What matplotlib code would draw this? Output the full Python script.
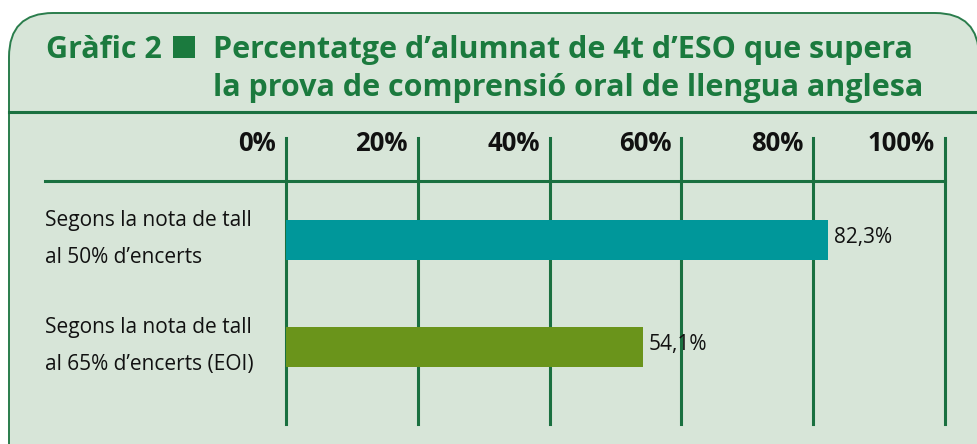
import matplotlib
matplotlib.use("Agg")
import matplotlib.pyplot as plt
from matplotlib.patches import FancyBboxPatch, Rectangle
from matplotlib.lines import Line2D

# ---- data ----
categories = ["Segons la nota de tall\nal 50% d\u2019encerts",
              "Segons la nota de tall\nal 65% d\u2019encerts (EOI)"]
values = [82.3, 54.1]
value_labels = ["82,3%", "54,1%"]
bar_colors = ["#00979a", "#6a941b"]
tick_values = [0, 20, 40, 60, 80, 100]
tick_labels = ["0%", "20%", "40%", "60%", "80%", "100%"]
title_prefix = "Gr\u00e0fic 2"
title_line1 = "Percentatge d\u2019alumnat de 4t d\u2019ESO que supera"
title_line2 = "la prova de comprensi\u00f3 oral de llengua anglesa"

W, H = 977, 444
BG = "#d7e5d8"
DARK = "#1a7040"
TITLE = "#1b7a3e"
FONT = "Open Sans"

fig = plt.figure(figsize=(W / 100, H / 100), dpi=100)
fig.patch.set_facecolor("white")

def fx(px):
    return px / W

def fy(py):
    return 1 - py / H

# panel with rounded top corners (extends beyond right and bottom edges)
panel = FancyBboxPatch((fx(9), fy(520)), fx(979) - fx(9), fy(13) - fy(520),
                       boxstyle="round,pad=0,rounding_size=0.045",
                       transform=fig.transFigure, facecolor=BG,
                       edgecolor="#2a7d4c", linewidth=1.4, zorder=-5,
                       mutation_aspect=W / H)
fig.patches.append(panel)

# separator line under title
fig.add_artist(Line2D([fx(9), fx(977)], [fy(112), fy(112)],
                      transform=fig.transFigure, color=DARK, lw=2.2))

# title
TS = 22
fig.text(fx(46), fy(58), title_prefix, fontsize=TS, fontweight="bold",
         color=TITLE, family=FONT, va="baseline", ha="left")
fig.add_artist(Rectangle((fx(173), fy(58)), fx(195) - fx(173), fy(36) - fy(58),
                         transform=fig.transFigure, facecolor=TITLE,
                         edgecolor="none"))
fig.text(fx(213), fy(58), title_line1, fontsize=TS, fontweight="bold",
         color=TITLE, family=FONT, va="baseline", ha="left")
fig.text(fx(213), fy(96), title_line2, fontsize=TS, fontweight="bold",
         color=TITLE, family=FONT, va="baseline", ha="left")

# axes: x 0..100 maps to px 286..945, vertical extent px 138..424
ax = fig.add_axes([fx(286), fy(424), fx(945) - fx(286), fy(138) - fy(424)])
ax.set_zorder(5)
ax.set_facecolor("none")
ax.patch.set_alpha(0)
for s in ax.spines.values():
    s.set_visible(False)
ax.set_xlim(0, 100)
ypos = list(range(len(categories)))
ax.set_ylim(1.72, -0.953)
ax.set_xticks([])
ax.set_yticks([])

for t in tick_values:
    ax.axvline(t, color=DARK, lw=2.2, zorder=1, clip_on=False)

ax.barh(ypos, values, height=0.374, color=bar_colors, zorder=2)

# horizontal line under header labels
y_h = -0.551
ax.plot([-36.6, 100], [y_h, y_h], color=DARK, lw=2.2, clip_on=False, zorder=1)

# tick labels (bold, right-aligned left of each line)
for t, lab in zip(tick_values, tick_labels):
    ax.text(t - 1.5, -0.905, lab, fontsize=18.5, fontweight="bold",
            family=FONT, ha="right", va="center", color="#111111")

# category labels (two lines each)
for y, lab in zip(ypos, categories):
    l1, l2 = lab.split("\n")
    ax.text(-36.6, y - 0.178, l1, fontsize=15, family=FONT, ha="left",
            va="center", color="#111111")
    ax.text(-36.6, y + 0.16, l2, fontsize=15, family=FONT, ha="left",
            va="center", color="#111111")

# value labels
for y, v, lab in zip(ypos, values, value_labels):
    ax.text(v + 0.9, y - 0.02, lab, fontsize=15, family=FONT,
            ha="left", va="center", color="#111111")

fig.savefig("out.png", dpi=100, facecolor="white")
